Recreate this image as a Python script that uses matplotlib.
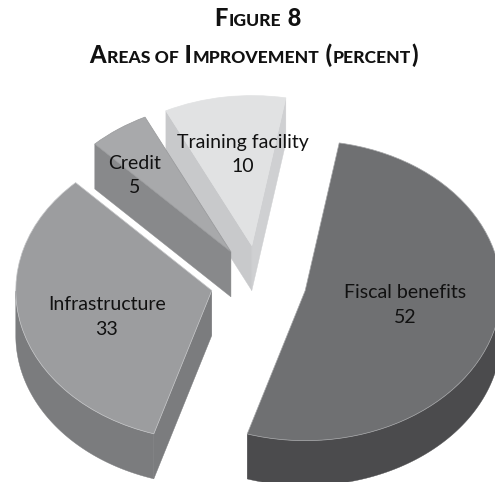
import numpy as np
import matplotlib
matplotlib.use("Agg")
import matplotlib.pyplot as plt
from matplotlib.patches import Polygon

categories = ["Fiscal benefits", "Infrastructure", "Credit", "Training facility"]
values = [52, 33, 5, 10]
top_colors = ["#6f7072", "#9c9d9f", "#a8a9ab", "#e1e2e3"]
edge_colors = ["#a5a6a8", "#c4c5c7", "#98999b", "#e1e2e3"]
arc_colors = ["#4b4b4d", "#7b7c7e", "#88898b", "#c8c9cb"]
face_colors = [("#4b4b4d", "#4b4b4d"), ("#7b7c7e", "#7b7c7e"), ("#88898b", "#88898b"), ("#cfd0d2", "#c8c9cb")]
title_runs_1 = [("F", 17), ("IGURE", 12.6), (" 8", 17)]
title_runs_2 = [("A", 17), ("REAS OF", 12.6), (" I", 17), ("MPROVEMENT", 12.6), (" (", 17), ("PERCENT", 12.6), (")", 17)]

W, H = 495, 482
CX, CY, A, B, DEPTH = 258.5, 282.0, 196.0, 150.0, 45.0
FONT = "Lato"

fig = plt.figure(figsize=(W / 100, H / 100), dpi=100, facecolor="white")
ax = fig.add_axes([0, 0, 1, 1])
wedges, _ = ax.pie(values, explode=[0.245] * 4, startangle=80, counterclock=False,
                   colors=top_colors, wedgeprops=dict(linewidth=0))
ax.set_aspect("auto")
ax.set_xlim((0 - CX) / A, (W - CX) / A)
ax.set_ylim((CY - H) / B, CY / B)
ax.axis("off")
d = DEPTH / B


def pt(w, ang):
    r = np.radians(ang)
    return np.array([w.center[0] + w.r * np.cos(r), w.center[1] + w.r * np.sin(r)])


order = [3, 2, 1, 0]
for k, i in enumerate(order):
    w = wedges[i]
    z = 2 + k
    t1, t2 = w.theta1, w.theta2
    c = np.array(w.center)
    # radial cut faces whose outward normal points towards the viewer
    for ang, normal, col in ((t1, t1 - 90, face_colors[i][0]), (t2, t2 + 90, face_colors[i][1])):
        if np.sin(np.radians(normal)) < 0:
            p = pt(w, ang)
            ax.add_patch(Polygon([c, p, p - [0, d], c - [0, d]], closed=True, fc=col, ec=col, lw=0.3, zorder=z))
    # outer curved face
    angs = np.linspace(t1, t2, 240)
    angs = angs[np.sin(np.radians(angs)) < 0]
    if len(angs) > 1:
        upper = np.array([pt(w, a) for a in angs])
        lower = upper[::-1] - [0, d]
        ax.add_patch(Polygon(np.vstack([upper, lower]), closed=True, fc=arc_colors[i], ec=arc_colors[i], lw=0.3, zorder=z))
    w.set_zorder(z + 0.5)
    w.set_edgecolor(edge_colors[i])
    w.set_linewidth(0.5)

label_xy = [(405, 305), (107, 317), (135, 175.5), (243, 154.5)]
for name, v, (x, y) in zip(categories, values, label_xy):
    ax.text((x - CX) / A, (CY - y) / B, f"{name}\n{v}", ha="center", va="center",
            fontsize=14, family=FONT, color="#111111", linespacing=1.55, zorder=20)


def runs(rs, baseline, center):
    fig.canvas.draw()
    rend = fig.canvas.get_renderer()
    ts = [fig.text(0, 1 - baseline / H, s.replace(" ", "\u00a0"), fontsize=fs, family=FONT, weight=900,
                   va="baseline", ha="left", color="#111111") for s, fs in rs]
    widths = [t.get_window_extent(rend).width + 0.6 for t in ts]
    x = center - sum(widths) / 2
    for t, wd in zip(ts, widths):
        t.set_x(x / W)
        x += wd


runs(title_runs_1, 26, 258)
runs(title_runs_2, 63, 254)
fig.savefig("out.png", dpi=100, facecolor="white")
